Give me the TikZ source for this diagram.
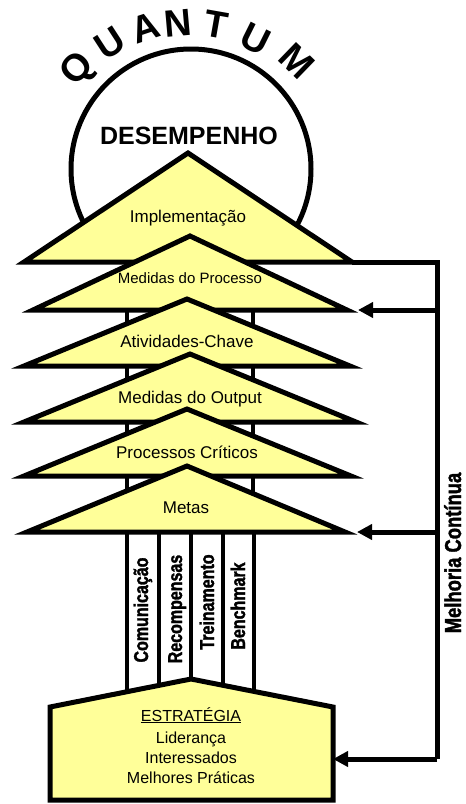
\documentclass[tikz,border=0pt]{standalone}
\usepackage{fontspec}
\setmainfont{Liberation Sans}
\newfontfamily\narrowbold[FakeStretch=0.8, FakeBold=1.6]{Liberation Sans Bold}
\newfontfamily\heavyfont{Liberation Sans Bold}
\usetikzlibrary{arrows.meta}
\definecolor{layeryellow}{RGB}{255,255,153}

\begin{document}
\begin{tikzpicture}[x=1pt, y=-1pt,
  layer/.style={fill=layeryellow, draw=black, line width=5pt, line join=miter},
  pillarline/.style={line width=4pt},
  fbline/.style={line width=5pt, line join=miter},
  fbarrow/.style={fbline, -{Triangle[length=15pt,width=15pt]}},
  layerlabel/.style={font=\fontsize{17}{20}\selectfont, anchor=base, inner sep=0pt},
  baselabel/.style={font=\fontsize{16}{20}\selectfont, anchor=base, inner sep=0pt},
  pillarlabel/.style={font=\narrowbold\fontsize{20}{20}\selectfont, rotate=90, anchor=base, inner sep=0pt},
  arcletter/.style={font=\heavyfont\fontsize{38}{38}\selectfont, inner sep=0pt}
]
\useasboundingbox (0,0) rectangle (466,804);

% performance sphere behind the stack
\begin{scope}
  \clip (0,0) rectangle (466,262);
  \draw[line width=5pt, fill=white] (191,169) circle[radius=120];
\end{scope}

% title letters set along the arc
\node[arcletter, rotate=47]    (q1) at (79,70)  {Q};
\node[arcletter, rotate=33]    (q2) at (110,43) {U};
\node[arcletter, rotate=18.5]  (q3) at (145,28) {A};
\node[arcletter, rotate=5]     (q4) at (178,23) {N};
\node[arcletter, rotate=-10]   (q5) at (216,25) {T};
\node[arcletter, rotate=-26.5] (q6) at (256,39) {U};
\node[arcletter, rotate=-44]   (q7) at (297,61) {M};

\node[font=\heavyfont\fontsize{25}{25}\selectfont, anchor=base, inner sep=0pt]
  (perf) at (189,144) {DESEMPENHO};

% central column behind the layers
\fill[white] (127,255) rectangle (253,532);
\draw[pillarline] (127,255) -- (127,532);
\draw[pillarline] (253,255) -- (253,532);

% four pillars under the stack
\foreach \px in {127,159,191,223,254}
  \draw[pillarline] (\px,532) -- (\px,705);

% strategy base
\coordinate (bL)  at (50,707);
\coordinate (bA)  at (191,679);
\coordinate (bR)  at (333,707);
\coordinate (bBR) at (333,800);
\coordinate (bBL) at (50,800);
\draw[layer] (bL) -- (bA) -- (bR) -- (bBR) -- (bBL) -- cycle;

% stacked layers, bottom one drawn last
\coordinate (t1L) at (24,262);  \coordinate (t1A) at (188,153); \coordinate (t1R) at (352,262);
\coordinate (t2L) at (33,310);  \coordinate (t2A) at (190,236); \coordinate (t2R) at (347,310);
\coordinate (t3L) at (24,366);  \coordinate (t3A) at (187,299); \coordinate (t3R) at (350,366);
\coordinate (t4L) at (24,422);  \coordinate (t4A) at (190,354); \coordinate (t4R) at (356,422);
\coordinate (t5L) at (24,476);  \coordinate (t5A) at (187,409); \coordinate (t5R) at (351,476);
\coordinate (t6L) at (27,532);  \coordinate (t6A) at (187,466); \coordinate (t6R) at (345,532);
\foreach \k in {1,...,6}
  \draw[layer] (t\k L) -- (t\k A) -- (t\k R) -- cycle;

% continuous improvement loop
\coordinate (fbTop) at (437,262);
\coordinate (fbP)   at (437,310);
\coordinate (fbM)   at (437,532);
\coordinate (fbBot) at (437,759);
\coordinate (t2tip) at (358,310);
\coordinate (t6tip) at (357,532);
\coordinate (bTip)  at (333,759);
\draw[fbline] (t1R) -- (fbTop) -- (fbBot);
\draw[fbarrow] (fbBot) -- (bTip);
\draw[fbarrow] (fbP) -- (t2tip);
\draw[fbarrow] (fbM) -- (t6tip);

% layer labels
\node[layerlabel] (l1) at (188,222) {Implementação};
\node[layerlabel, font=\fontsize{15}{18}\selectfont] (l2) at (190,283) {Medidas do Processo};
\node[layerlabel] (l3) at (187,347) {Atividades-Chave};
\node[layerlabel] (l4) at (190,403) {Medidas do Output};
\node[layerlabel] (l5) at (187,458) {Processos Críticos};
\node[layerlabel] (l6) at (186,513) {Metas};

% pillar labels
\node[pillarlabel] (p1) at (148,610) {Comunicação};
\node[pillarlabel] (p2) at (182,609) {Recompensas};
\node[pillarlabel] (p3) at (214,602) {Treinamento};
\node[pillarlabel] (p4) at (245,606) {Benchmark};

% base labels
\node[baselabel] (s0) at (191,721) {\underline{ESTRATÉGIA}};
\node[baselabel] (s1) at (191,743) {Liderança};
\node[baselabel] (s2) at (191,763) {Interessados};
\node[baselabel] (s3) at (191,783) {Melhores Práticas};

\node[pillarlabel, font=\narrowbold\fontsize{23}{23}\selectfont] (mc) at (461,553) {Melhoria Contínua};
\end{tikzpicture}
\end{document}
